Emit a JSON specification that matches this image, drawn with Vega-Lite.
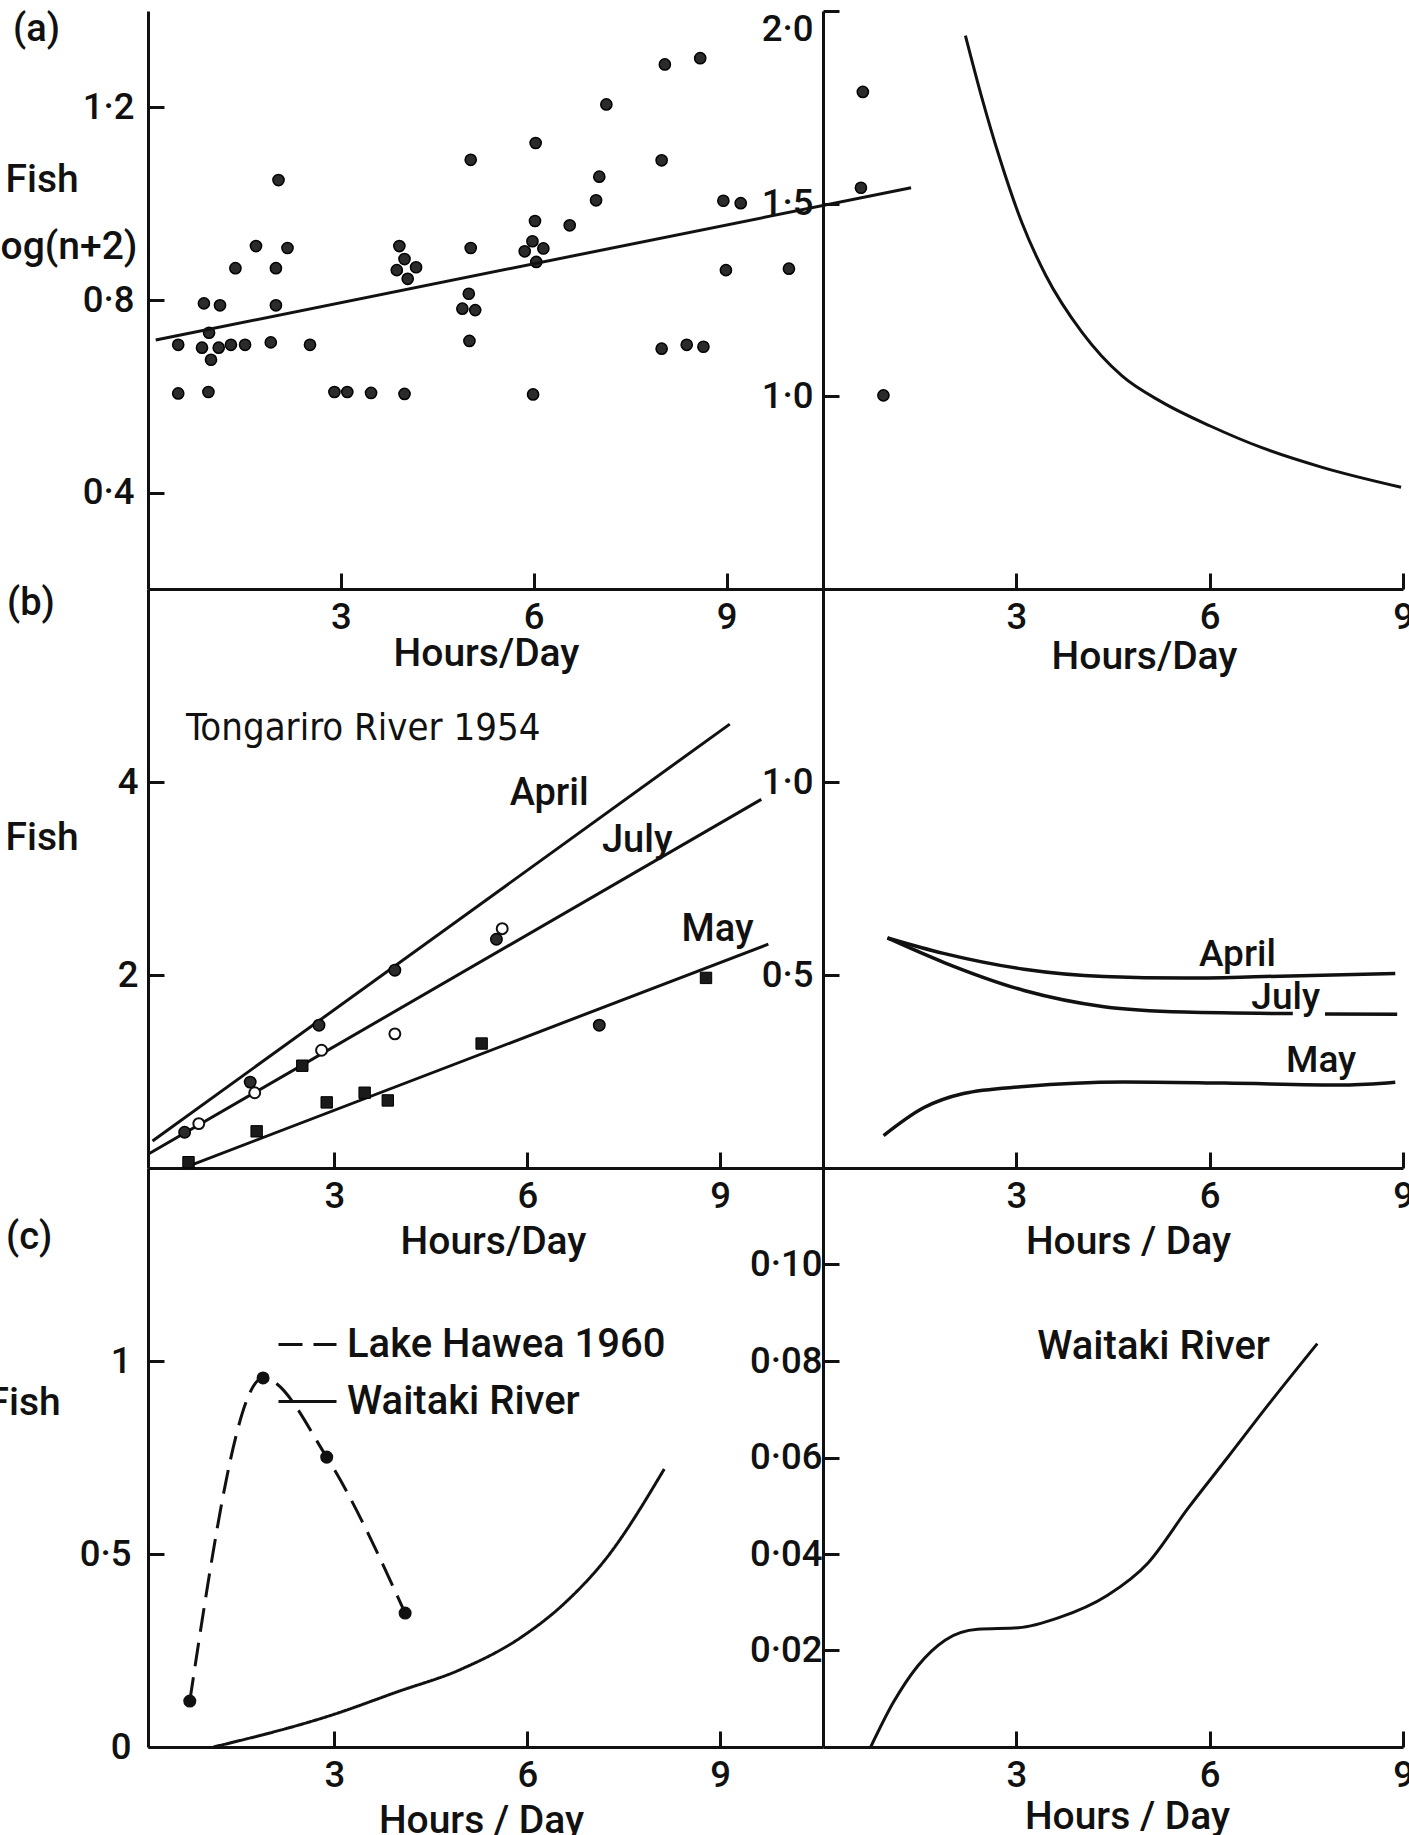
{
  "$schema": "https://vega.github.io/schema/vega-lite/v6.json",
  "autosize": {"type": "none"},
  "padding": {"left": 148, "top": 11, "right": 1261, "bottom": 1824},
  "background": "white",
  "columns": 2,
  "spacing": 0,
  "bounds": "flush",
  "resolve": {"scale": {"strokeDash": "independent"}, "legend": {"strokeDash": "independent"}},
  "datasets": {
    "a_pts": [
      {"hours": 0.47, "fish": 0.707}, {"hours": 0.47, "fish": 0.606}, {"hours": 0.87, "fish": 0.793}, {"hours": 1.12, "fish": 0.789},
      {"hours": 0.95, "fish": 0.732}, {"hours": 0.84, "fish": 0.701}, {"hours": 1.10, "fish": 0.701}, {"hours": 0.98, "fish": 0.676},
      {"hours": 0.94, "fish": 0.609}, {"hours": 1.29, "fish": 0.707}, {"hours": 1.51, "fish": 0.707}, {"hours": 1.36, "fish": 0.866},
      {"hours": 1.68, "fish": 0.912}, {"hours": 2.03, "fish": 1.049}, {"hours": 1.99, "fish": 0.866}, {"hours": 2.17, "fish": 0.908},
      {"hours": 1.99, "fish": 0.789}, {"hours": 1.91, "fish": 0.712}, {"hours": 2.52, "fish": 0.707}, {"hours": 2.90, "fish": 0.609},
      {"hours": 3.10, "fish": 0.609}, {"hours": 3.47, "fish": 0.607}, {"hours": 3.99, "fish": 0.605}, {"hours": 3.91, "fish": 0.912},
      {"hours": 3.99, "fish": 0.885}, {"hours": 3.87, "fish": 0.862}, {"hours": 4.04, "fish": 0.844}, {"hours": 4.17, "fish": 0.868},
      {"hours": 5.02, "fish": 1.091}, {"hours": 5.02, "fish": 0.908}, {"hours": 4.99, "fish": 0.813}, {"hours": 4.89, "fish": 0.782},
      {"hours": 5.09, "fish": 0.779}, {"hours": 5.00, "fish": 0.715}, {"hours": 6.03, "fish": 1.126}, {"hours": 6.02, "fish": 0.964},
      {"hours": 5.98, "fish": 0.922}, {"hours": 5.86, "fish": 0.901}, {"hours": 6.15, "fish": 0.907}, {"hours": 6.04, "fish": 0.879},
      {"hours": 5.99, "fish": 0.604}, {"hours": 6.56, "fish": 0.955}, {"hours": 7.13, "fish": 1.206}, {"hours": 7.02, "fish": 1.056},
      {"hours": 6.97, "fish": 1.007}, {"hours": 8.04, "fish": 1.289}, {"hours": 8.59, "fish": 1.302}, {"hours": 7.99, "fish": 1.09},
      {"hours": 8.95, "fish": 1.006}, {"hours": 9.22, "fish": 1.001}, {"hours": 8.99, "fish": 0.862}, {"hours": 9.97, "fish": 0.865},
      {"hours": 7.99, "fish": 0.699}, {"hours": 8.38, "fish": 0.707}, {"hours": 8.64, "fish": 0.703}, {"hours": 11.12, "fish": 1.232},
      {"hours": 11.09, "fish": 1.033}, {"hours": 11.44, "fish": 0.602}
    ],
    "a_line": [{"hours": 0.12, "fish": 0.717}, {"hours": 11.87, "fish": 1.033}],
    "a_curve": [
      {"hours": 2.21, "fish": 1.936}, {"hours": 2.46, "fish": 1.778}, {"hours": 2.74, "fish": 1.619}, {"hours": 3.09, "fish": 1.449},
      {"hours": 3.46, "fish": 1.313}, {"hours": 4.02, "fish": 1.166}, {"hours": 4.64, "fish": 1.053}, {"hours": 5.26, "fish": 0.985},
      {"hours": 6.01, "fish": 0.923}, {"hours": 6.82, "fish": 0.866}, {"hours": 7.76, "fish": 0.815}, {"hours": 8.97, "fish": 0.764}
    ],
    "b_lines": [
      {"month": "April", "hours": 0.17, "fish": 0.28}, {"month": "April", "hours": 9.15, "fish": 4.60},
      {"month": "July", "hours": 0.12, "fish": 0.15}, {"month": "July", "hours": 9.64, "fish": 3.82},
      {"month": "May", "hours": 0.73, "fish": 0.02}, {"month": "May", "hours": 9.75, "fish": 2.32}
    ],
    "b_pts": [
      {"kind": "filled", "hours": 0.67, "fish": 0.37}, {"kind": "filled", "hours": 1.69, "fish": 0.89}, {"kind": "filled", "hours": 2.76, "fish": 1.48},
      {"kind": "filled", "hours": 3.94, "fish": 2.05}, {"kind": "filled", "hours": 5.52, "fish": 2.37}, {"kind": "filled", "hours": 7.12, "fish": 1.48},
      {"kind": "open", "hours": 0.89, "fish": 0.46}, {"kind": "open", "hours": 1.76, "fish": 0.78}, {"kind": "open", "hours": 2.80, "fish": 1.22},
      {"kind": "open", "hours": 3.94, "fish": 1.39}, {"kind": "open", "hours": 5.61, "fish": 2.48},
      {"kind": "square", "hours": 0.73, "fish": 0.06}, {"kind": "square", "hours": 1.79, "fish": 0.38}, {"kind": "square", "hours": 2.50, "fish": 1.06},
      {"kind": "square", "hours": 2.88, "fish": 0.68}, {"kind": "square", "hours": 3.47, "fish": 0.78}, {"kind": "square", "hours": 3.83, "fish": 0.70},
      {"kind": "square", "hours": 5.29, "fish": 1.29}, {"kind": "square", "hours": 8.78, "fish": 1.97}
    ],
    "b_left_text": [
      {"text": "April", "hours": 6.34, "fish": 3.88}, {"text": "July", "hours": 7.71, "fish": 3.39}, {"text": "May", "hours": 8.96, "fish": 2.47}
    ],
    "b_left_title": [{"text": "Tongariro River 1954", "hours": 0.69, "fish": 4.55}],
    "b_curves": [
      {"seg": "April", "hours": 1.0, "fish": 0.596}, {"seg": "April", "hours": 1.87, "fish": 0.556}, {"seg": "April", "hours": 3.12, "fish": 0.515},
      {"seg": "April", "hours": 4.36, "fish": 0.496}, {"seg": "April", "hours": 5.61, "fish": 0.492}, {"seg": "April", "hours": 6.85, "fish": 0.496},
      {"seg": "April", "hours": 8.88, "fish": 0.504},
      {"seg": "July 1", "hours": 1.0, "fish": 0.596}, {"seg": "July 1", "hours": 1.87, "fish": 0.533}, {"seg": "July 1", "hours": 3.12, "fish": 0.46},
      {"seg": "July 1", "hours": 4.36, "fish": 0.418}, {"seg": "July 1", "hours": 5.61, "fish": 0.404}, {"seg": "July 1", "hours": 7.29, "fish": 0.40},
      {"seg": "July 2", "hours": 7.79, "fish": 0.399}, {"seg": "July 2", "hours": 8.91, "fish": 0.398},
      {"seg": "May", "hours": 0.94, "fish": 0.084}, {"seg": "May", "hours": 1.56, "fish": 0.156}, {"seg": "May", "hours": 2.18, "fish": 0.193},
      {"seg": "May", "hours": 3.12, "fish": 0.211}, {"seg": "May", "hours": 4.67, "fish": 0.223}, {"seg": "May", "hours": 6.23, "fish": 0.22},
      {"seg": "May", "hours": 8.1, "fish": 0.215}, {"seg": "May", "hours": 8.88, "fish": 0.222}
    ],
    "b_right_text": [
      {"text": "April", "hours": 6.43, "fish": 0.552}, {"text": "July", "hours": 7.18, "fish": 0.44}, {"text": "May", "hours": 7.73, "fish": 0.276}
    ],
    "c_left": [
      {"series": "Lake Hawea 1960", "hours": 0.75, "fish": 0.119}, {"series": "Lake Hawea 1960", "hours": 1.89, "fish": 0.956},
      {"series": "Lake Hawea 1960", "hours": 2.88, "fish": 0.751}, {"series": "Lake Hawea 1960", "hours": 4.10, "fish": 0.347},
      {"series": "Waitaki River", "hours": 1.12, "fish": 0.0}, {"series": "Waitaki River", "hours": 3.0, "fish": 0.085},
      {"series": "Waitaki River", "hours": 3.98, "fish": 0.143}, {"series": "Waitaki River", "hours": 4.95, "fish": 0.20},
      {"series": "Waitaki River", "hours": 5.92, "fish": 0.286}, {"series": "Waitaki River", "hours": 6.57, "fish": 0.371},
      {"series": "Waitaki River", "hours": 7.22, "fish": 0.487}, {"series": "Waitaki River", "hours": 8.13, "fish": 0.72}
    ],
    "c_right": [
      {"hours": 0.74, "fish": 0.0}, {"hours": 1.09, "fish": 0.0092}, {"hours": 1.47, "fish": 0.0168}, {"hours": 1.90, "fish": 0.0222},
      {"hours": 2.40, "fish": 0.0244}, {"hours": 3.03, "fish": 0.0247}, {"hours": 3.66, "fish": 0.0268}, {"hours": 4.41, "fish": 0.0314},
      {"hours": 5.04, "fish": 0.0381}, {"hours": 5.66, "fish": 0.0494}, {"hours": 6.29, "fish": 0.0602}, {"hours": 6.92, "fish": 0.0711},
      {"hours": 7.67, "fish": 0.0836}
    ],
    "c_right_text": [{"text": "Waitaki  River", "hours": 5.13, "fish": 0.0828}]
  },
  "concat": [
    {
      "width": 675, "height": 578,
      "title": {"text": "(a)", "offset": -38, "dx": -135},
      "resolve": {"axis": {"y": "independent"}},
      "layer": [
        {
          "data": {"name": "a_pts"},
          "mark": {"type": "circle", "size": 125, "fill": "#2b2b2b", "stroke": "#000", "strokeWidth": 1.5, "opacity": 1},
          "encoding": {
            "x": {"field": "hours", "type": "quantitative", "scale": {"domain": [0, 10.5], "nice": false, "zero": false},
                  "axis": {"values": [3, 6, 9], "format": "d", "title": "Hours/Day", "titleX": 338, "titleY": 76, "titleBaseline": "alphabetic"}},
            "y": {"field": "fish", "type": "quantitative", "scale": {"domain": [0.2, 1.4], "nice": false, "zero": false},
                  "axis": {"values": [0.4, 0.8, 1.2], "format": ".1f", "labelExpr": "replace(datum.label, '.', '·')", "labelPadding": 30,
                           "title": "Fish", "titleAngle": 0, "titleAlign": "left", "titleBaseline": "middle", "titleX": -143, "titleY": 168}}
          }
        },
        {
          "data": {"name": "a_line"},
          "mark": {"type": "line", "stroke": "#111", "strokeWidth": 3},
          "encoding": {
            "x": {"field": "hours", "type": "quantitative"},
            "y": {"field": "fish", "type": "quantitative",
                  "axis": {"orient": "left", "labels": false, "ticks": false, "domain": false,
                           "title": "log(n+2)", "titleAngle": 0, "titleAlign": "right", "titleBaseline": "middle", "titleX": -11, "titleY": 235}}
          }
        }
      ]
    },
    {
      "width": 580, "height": 578,
      "data": {"name": "a_curve"},
      "mark": {"type": "line", "interpolate": "monotone", "stroke": "#111", "strokeWidth": 3},
      "encoding": {
        "x": {"field": "hours", "type": "quantitative", "scale": {"domain": [0, 9], "nice": false, "zero": false},
              "axis": {"values": [3, 6, 9], "format": "d", "title": "Hours/Day", "titleX": 321, "titleY": 79, "titleBaseline": "alphabetic"}},
        "y": {"field": "fish", "type": "quantitative", "scale": {"domain": [0.5, 2.0], "nice": false, "zero": false},
              "axis": {"values": [1.0, 1.5, 2.0], "format": ".1f", "labelExpr": "replace(datum.label, '.', '·')", "labelPadding": 26, "labelFlush": true, "title": null}}
      }
    },
    {
      "width": 675, "height": 579,
      "title": {"text": "(b)", "offset": -34, "dx": -141},
      "encoding": {
        "x": {"field": "hours", "type": "quantitative", "scale": {"domain": [0.1, 10.6], "nice": false, "zero": false},
              "axis": {"values": [3, 6, 9], "format": "d", "title": "Hours/Day", "titleX": 345, "titleY": 85, "titleBaseline": "alphabetic"}},
        "y": {"field": "fish", "type": "quantitative", "scale": {"domain": [0, 6], "nice": false, "zero": false},
              "axis": {"values": [2, 4], "format": "d", "labelPadding": 26,
                       "title": "Fish", "titleAngle": 0, "titleAlign": "left", "titleBaseline": "middle", "titleX": -143, "titleY": 248}}
      },
      "layer": [
        {"data": {"name": "b_lines"}, "mark": {"type": "line", "stroke": "#111", "strokeWidth": 3}, "encoding": {"detail": {"field": "month"}}},
        {"data": {"name": "b_pts"}, "transform": [{"filter": "datum.kind === 'filled'"}],
         "mark": {"type": "point", "shape": "circle", "size": 130, "filled": true, "fill": "#2b2b2b", "stroke": "#000", "strokeWidth": 1.5, "opacity": 1}},
        {"data": {"name": "b_pts"}, "transform": [{"filter": "datum.kind === 'open'"}],
         "mark": {"type": "point", "shape": "circle", "size": 120, "filled": false, "fill": "white", "stroke": "#111", "strokeWidth": 2, "opacity": 1}},
        {"data": {"name": "b_pts"}, "transform": [{"filter": "datum.kind === 'square'"}],
         "mark": {"type": "point", "shape": "square", "size": 130, "filled": true, "fill": "#1a1a1a", "stroke": "#000", "strokeWidth": 1, "opacity": 1}},
        {"data": {"name": "b_left_text"}, "mark": {"type": "text", "fontSize": 38, "align": "center", "baseline": "middle", "color": "#111"},
         "encoding": {"text": {"field": "text"}}},
        {"data": {"name": "b_left_title"}, "mark": {"type": "text", "font": "Liberation Sans Narrow, DejaVu Sans Condensed, sans-serif", "fontWeight": "normal", "fontSize": 38, "align": "left", "baseline": "middle", "color": "#111"},
         "encoding": {"text": {"field": "text"}}}
      ]
    },
    {
      "width": 580, "height": 579,
      "encoding": {
        "x": {"field": "hours", "type": "quantitative", "scale": {"domain": [0, 9], "nice": false, "zero": false},
              "axis": {"values": [3, 6, 9], "format": "d", "title": "Hours / Day", "titleX": 305, "titleY": 85, "titleBaseline": "alphabetic"}},
        "y": {"field": "fish", "type": "quantitative", "scale": {"domain": [0, 1.5], "nice": false, "zero": false},
              "axis": {"values": [0.5, 1.0], "format": ".1f", "labelExpr": "replace(datum.label, '.', '·')", "labelPadding": 26, "title": null}}
      },
      "layer": [
        {"data": {"name": "b_curves"}, "mark": {"type": "line", "interpolate": "monotone", "stroke": "#111", "strokeWidth": 3.5}, "encoding": {"detail": {"field": "seg"}}},
        {"data": {"name": "b_right_text"}, "mark": {"type": "text", "fontSize": 37, "align": "center", "baseline": "middle", "color": "#111"},
         "encoding": {"text": {"field": "text"}}}
      ]
    },
    {
      "width": 675, "height": 579,
      "title": {"text": "(c)", "offset": -89, "dx": -142},
      "encoding": {
        "x": {"field": "hours", "type": "quantitative", "scale": {"domain": [0.1, 10.6], "nice": false, "zero": false},
              "axis": {"values": [3, 6, 9], "format": "d", "title": "Hours / Day", "titleX": 333, "titleY": 85, "titleBaseline": "alphabetic"}},
        "y": {"field": "fish", "type": "quantitative", "scale": {"domain": [0, 1.5], "nice": false, "zero": false},
              "axis": {"values": [0, 0.5, 1], "format": "~g", "labelExpr": "replace(datum.label, '.', '·')", "labelPadding": 33,
                       "title": "Fish", "titleAngle": 0, "titleAlign": "left", "titleBaseline": "middle", "titleX": -161, "titleY": 234}}
      },
      "layer": [
        {"data": {"name": "c_left"}, "mark": {"type": "line", "interpolate": "monotone", "stroke": "#111", "strokeWidth": 3},
         "encoding": {"strokeDash": {"field": "series", "type": "nominal",
                        "scale": {"domain": ["Lake Hawea 1960", "Waitaki River"], "range": [[24, 11], [1, 0]]},
                        "legend": {"orient": "none", "legendX": 129, "legendY": 146, "title": null, "symbolType": "stroke", "symbolSize": 3364,
                                   "symbolStrokeWidth": 3, "symbolStrokeColor": "#111", "labelFont": "Roboto", "labelFontWeight": 500, "labelFontSize": 40,
                                   "labelColor": "#111", "labelOffset": 9, "rowPadding": 6, "padding": 0, "labelLimit": 0}}}},
        {"data": {"name": "c_left"}, "transform": [{"filter": "datum.series === 'Lake Hawea 1960'"}],
         "mark": {"type": "circle", "size": 170, "fill": "#111", "opacity": 1}}
      ]
    },
    {
      "width": 580, "height": 579,
      "encoding": {
        "x": {"field": "hours", "type": "quantitative", "scale": {"domain": [0, 9], "nice": false, "zero": false},
              "axis": {"values": [3, 6, 9], "format": "d", "title": "Hours / Day", "titleX": 304, "titleY": 81, "titleBaseline": "alphabetic"}},
        "y": {"field": "fish", "type": "quantitative", "scale": {"domain": [0, 0.12], "nice": false, "zero": false},
              "axis": {"values": [0.02, 0.04, 0.06, 0.08, 0.10], "format": ".2f", "labelExpr": "replace(datum.label, '.', '·')", "labelPadding": 17, "title": null}}
      },
      "layer": [
        {"data": {"name": "c_right"}, "mark": {"type": "line", "interpolate": "monotone", "stroke": "#111", "strokeWidth": 3}},
        {"data": {"name": "c_right_text"}, "mark": {"type": "text", "fontSize": 40, "align": "center", "baseline": "middle", "color": "#111"},
         "encoding": {"text": {"field": "text"}}}
      ]
    }
  ],
  "config": {
    "view": {"stroke": null},
    "font": "Roboto",
    "axis": {
      "domainColor": "#111", "domainWidth": 3, "tickColor": "#111", "tickWidth": 3, "tickSize": -16,
      "labelPadding": 26, "labelFont": "Roboto", "labelFontWeight": 500, "labelFontSize": 36.5, "labelColor": "#111",
      "titleFont": "Roboto", "titleFontSize": 39, "titleFontWeight": 500, "titleColor": "#111",
      "grid": false, "labelOverlap": false, "labelFlush": false
    },
    "axisX": {"labelAngle": 0},
    "title": {"font": "Roboto", "fontSize": 38, "fontWeight": 500, "color": "#111", "anchor": "start", "frame": "group"},
    "text": {"font": "Roboto", "fontWeight": 500}
  }
}
